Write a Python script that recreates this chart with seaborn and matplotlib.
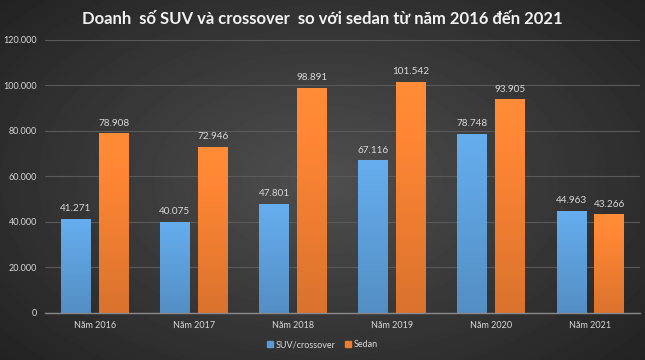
import numpy as np
import pandas as pd
import seaborn as sns
import matplotlib.pyplot as plt
from matplotlib.ticker import FuncFormatter

years = ["Năm 2016", "Năm 2017", "Năm 2018", "Năm 2019", "Năm 2020", "Năm 2021"]
suv = [41271, 40075, 47801, 67116, 78748, 44963]
sedan = [78908, 72946, 98891, 101542, 93905, 43266]
series = ["SUV/crossover", "Sedan"]
colors = ["#5b9bd5", "#ed7d31"]

df = pd.DataFrame({
    "year": years * 2,
    "value": suv + sedan,
    "type": [series[0]] * len(years) + [series[1]] * len(years),
})

sns.set_theme(style="dark")
plt.rcParams["font.family"] = ["Lato", "DejaVu Sans"]

fig = plt.figure(figsize=(6.45, 3.6), dpi=100)

# dark radial background
bg = fig.add_axes([0, 0, 1, 1], zorder=-10)
yy, xx = np.mgrid[-1:1:360j, -1:1:645j]
r = np.sqrt(xx ** 2 + (yy * 0.9) ** 2)
bg.imshow(0.31 - 0.13 * r, cmap="gray", vmin=0, vmax=1, aspect="auto",
          extent=[0, 1, 0, 1])
bg.set_axis_off()

ax = fig.add_axes([0.07, 0.131, 0.922, 0.758])
ax.patch.set_alpha(0)
sns.barplot(data=df, x="year", y="value", hue="type", palette=colors,
            width=0.76, gap=0.21, ax=ax, legend=False, saturation=1)

# vertical gradient on bars
for bar in ax.patches:
    x0, y0 = bar.get_x(), bar.get_y()
    w, h = bar.get_width(), bar.get_height()
    if h <= 0:
        continue
    base = np.array(plt.matplotlib.colors.to_rgb(bar.get_facecolor()))
    grad = np.linspace(1.12, 0.92, 64)[:, None, None] * base[None, None, :]
    img = ax.imshow(np.clip(grad, 0, 1), extent=[x0, x0 + w, y0, y0 + h],
                    aspect="auto", zorder=bar.get_zorder(), origin="upper")
    img.set_clip_path(bar)
    bar.set_edgecolor("none")

for i in range(len(years)):
    for j, vals in enumerate([suv, sedan]):
        xpos = i + (-0.19 if j == 0 else 0.19)
        ax.text(xpos, vals[i] + 2500, f"{vals[i]:,}".replace(",", "."),
                ha="center", va="bottom", fontsize=7.2, color="#d9d9d9")

ax.set_xlim(-0.5, len(years) - 0.5)
ax.set_ylim(0, 120000)
ax.set_yticks(range(0, 120001, 20000))
ax.yaxis.set_major_formatter(FuncFormatter(lambda v, p: f"{int(v):,}".replace(",", ".")))
ax.grid(axis="y", color="#5a5a5a", linewidth=0.8)
ax.set_axisbelow(True)
for s in ["top", "right", "left"]:
    ax.spines[s].set_visible(False)
ax.spines["bottom"].set_color("#8a8a8a")
ax.spines["bottom"].set_linewidth(1)
ax.tick_params(axis="both", colors="#d9d9d9", labelsize=6.5, length=0, pad=6)
ax.set_xlabel("")
ax.set_ylabel("")

fig.text(0.5, 0.948, "Doanh  số SUV và crossover  so với sedan từ năm 2016 đến 2021",
         ha="center", va="center", fontsize=12, fontweight="bold", color="#f2f2f2")

handles = [plt.Rectangle((0, 0), 1, 1, color=c) for c in colors]
fig.legend(handles, series, loc="center", bbox_to_anchor=(0.5, 0.042), ncol=2,
           frameon=False, fontsize=6.5, labelcolor="#d9d9d9", handlelength=0.7,
           handleheight=0.7, handletextpad=0.3, columnspacing=1.0)

fig.savefig("out.png", dpi=100)
